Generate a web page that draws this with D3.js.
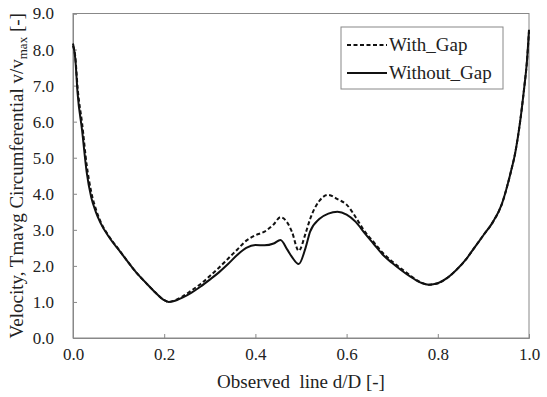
<!DOCTYPE html>
<html><head><meta charset="utf-8">
<script src="https://cdn.jsdelivr.net/npm/d3@7"></script>
<style>body{margin:0;background:#fff}svg{display:block}</style>
</head><body>
<svg id="c" width="547" height="397"></svg>
<script>
const dPos = [0,0.005,0.01,0.02,0.03,0.04,0.05,0.06,0.08,0.10,0.12,0.14,0.16,0.18,0.20,0.21,0.22,0.24,0.26,0.28,0.30,0.32,0.34,0.36,0.38,0.40,0.42,0.44,0.455,0.47,0.48,0.495,0.51,0.52,0.54,0.56,0.58,0.60,0.62,0.64,0.66,0.68,0.70,0.72,0.74,0.76,0.78,0.80,0.82,0.84,0.86,0.88,0.90,0.92,0.94,0.96,0.97,0.98,0.99,0.995,1.0];
const withoutGap = [8.17,7.75,6.8,5.75,4.6,3.9,3.5,3.2,2.78,2.45,2.12,1.8,1.53,1.27,1.05,1.0,1.02,1.12,1.26,1.43,1.62,1.82,2.05,2.3,2.5,2.58,2.57,2.62,2.72,2.45,2.25,2.05,2.5,2.95,3.3,3.45,3.5,3.42,3.22,2.9,2.6,2.3,2.08,1.88,1.7,1.55,1.48,1.52,1.66,1.88,2.15,2.5,2.85,3.2,3.7,4.6,5.15,5.95,7.0,7.6,8.55];
const withGap = [8.1,7.8,6.95,5.95,4.8,4.05,3.58,3.24,2.8,2.46,2.12,1.8,1.53,1.27,1.05,1.0,1.03,1.15,1.32,1.5,1.72,1.95,2.2,2.45,2.7,2.85,2.95,3.15,3.35,3.2,2.95,2.42,2.9,3.3,3.8,3.97,3.85,3.7,3.35,2.95,2.65,2.35,2.12,1.92,1.73,1.56,1.48,1.52,1.66,1.88,2.15,2.5,2.85,3.2,3.7,4.6,5.15,5.95,7.0,7.6,8.5];
const xTicks = [0,0.2,0.4,0.6,0.8,1.0];
const yTicks = [0,1,2,3,4,5,6,7,8,9];
const seriesNames = ["With_Gap","Without_Gap"];

const svg = d3.select("#c");
const L=73, R=529, T=13.5, B=338;
const x = d3.scaleLinear().domain([0,1]).range([L,R]);
const y = d3.scaleLinear().domain([0,9]).range([B,T]);
const font = "Liberation Serif";

svg.append("rect").attr("x",L).attr("y",T).attr("width",R-L).attr("height",B-T)
  .attr("fill","none").attr("stroke","#888").attr("stroke-width",1);

const xa = svg.append("g").attr("transform",`translate(0,${B})`)
  .call(d3.axisBottom(x).tickValues(xTicks).tickSize(-4).tickPadding(10).tickFormat(d3.format(".1f")));
const ya = svg.append("g").attr("transform",`translate(${L},0)`)
  .call(d3.axisLeft(y).tickValues(yTicks).tickSize(-4).tickPadding(19).tickFormat(d3.format(".1f")));
[xa,ya].forEach(a=>{
  a.attr("font-family",font);
  a.select(".domain").attr("stroke","#888");
  a.selectAll(".tick line").attr("stroke","#888");
  a.selectAll("text").attr("font-family",font).attr("font-size",17).attr("fill","#222");
});

const line = d3.line().x((d,i)=>x(dPos[i])).y(d=>y(d)).curve(d3.curveMonotoneX);
svg.append("path").datum(withGap).attr("d",line).attr("fill","none")
  .attr("stroke","#111").attr("stroke-width",2).attr("stroke-dasharray","4,2.5");
svg.append("path").datum(withoutGap).attr("d",line).attr("fill","none")
  .attr("stroke","#111").attr("stroke-width",2);

svg.append("text").attr("x",(L+R)/2).attr("y",388).attr("text-anchor","middle")
  .attr("font-family",font).attr("font-size",19).attr("fill","#222")
  .style("white-space","pre").text("Observed  line d/D [-]");

const yl = svg.append("text").attr("transform",`translate(23,${(T+B)/2}) rotate(-90)`)
  .attr("text-anchor","middle").attr("font-family",font).attr("font-size",19).attr("fill","#222");
yl.append("tspan").text("Velocity, Tmavg Circumferential v/v");
yl.append("tspan").attr("font-size",13).attr("dy",4).text("max");
yl.append("tspan").attr("dy",-4).text(" [-]");

const lg = svg.append("g");
lg.append("rect").attr("x",341).attr("y",27).attr("width",162).attr("height",62)
  .attr("fill","#fff").attr("stroke","#888").attr("stroke-width",1);
seriesNames.forEach((n,i)=>{
  const yy = 45 + i*28;
  lg.append("line").attr("x1",347).attr("x2",387).attr("y1",yy).attr("y2",yy)
    .attr("stroke","#111").attr("stroke-width",2).attr("stroke-dasharray",i===0?"4,2.5":null);
  lg.append("text").attr("x",389).attr("y",yy+6).attr("font-family",font).attr("font-size",19)
    .attr("fill","#222").text(n);
});
</script>
</body></html>
